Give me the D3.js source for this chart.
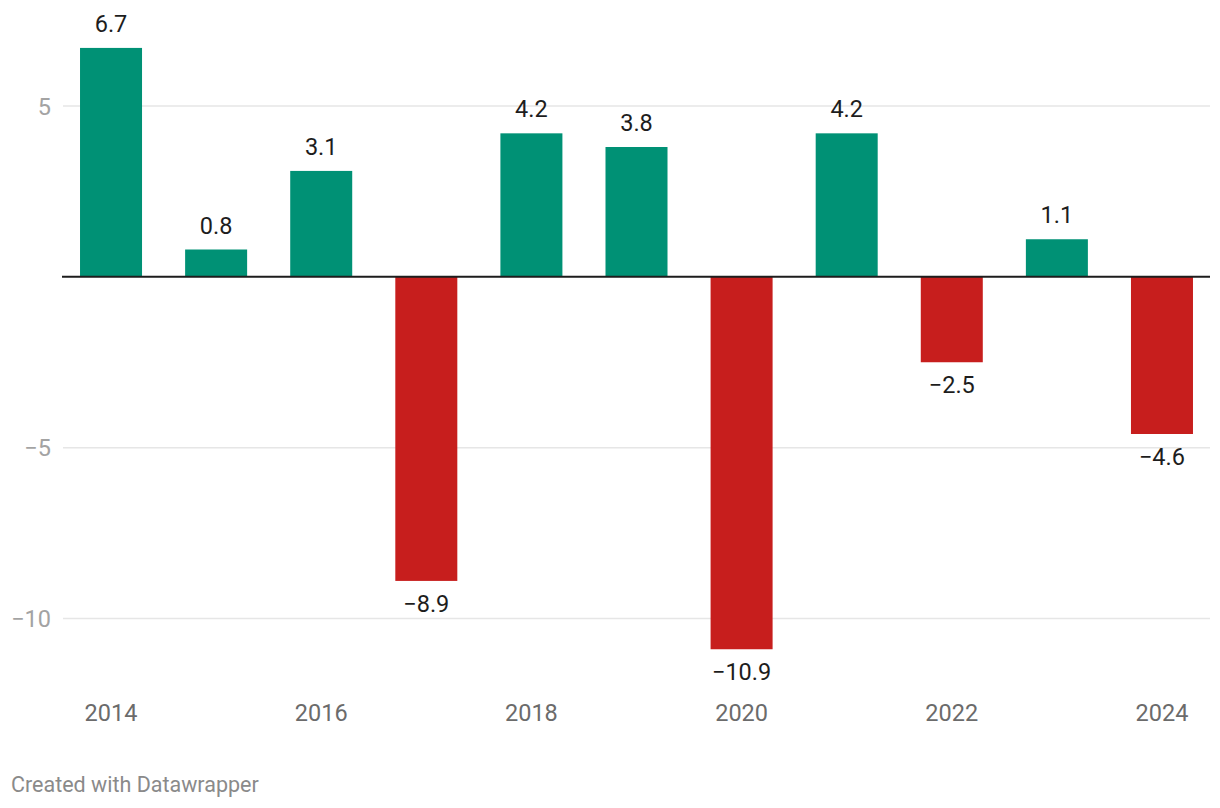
<!DOCTYPE html>
<html>
<head>
<meta charset="utf-8">
<script src="https://cdn.jsdelivr.net/npm/d3@7"></script>
<style>
  html, body { margin: 0; padding: 0; background: #fff; }
  svg { display: block; font-family: Roboto, sans-serif; }
</style>
</head>
<body>
<svg id="chart"></svg>
<script>
// data
const years = ['2014', '2015', '2016', '2017', '2018', '2019', '2020', '2021', '2022', '2023', '2024'];
const values = [6.7, 0.8, 3.1, -8.9, 4.2, 3.8, -10.9, 4.2, -2.5, 1.1, -4.6];
const yTicks = [5, -5, -10];
const xTickLabels = ['2014', '2016', '2018', '2020', '2022', '2024'];

const settings = {
    width: 1220,
    height: 808,
    left: 63,
    right: 1210,
    fontSize: 23.5,
    style: {
        up: '#009175',
        down: '#c71e1d',
        grid: '#e6e6e6',
        zero: '#1d1d1d',
        tickColor: '#a3a3a3',
        yearColor: '#6b6b6b',
        labelColor: '#1d1d1d'
    }
};

const minus = function (v) { return String(v).replace('-', '\u2212'); };

const svg = d3.select('#chart')
    .attr('width', settings.width)
    .attr('height', settings.height);

const x = d3.scaleBand()
    .domain(years)
    .range([settings.left, settings.right])
    .paddingInner(0.41)
    .paddingOuter(0.162);

const y = d3.scaleLinear()
    .domain([-10, 5])
    .range([618.5, 106]);

// grid lines
svg.append('g')
    .selectAll('line')
    .data(yTicks).enter().append('line')
    .attr('x1', settings.left)
    .attr('x2', settings.right)
    .attr('y1', function (d) { return y(d) })
    .attr('y2', function (d) { return y(d) })
    .style('stroke', settings.style.grid)
    .style('stroke-width', 1.5);

svg.append('g')
    .selectAll('text')
    .data(yTicks).enter().append('text')
    .attr('x', 51)
    .attr('y', function (d) { return y(d) + 8.5 })
    .attr('text-anchor', 'end')
    .style('font-size', settings.fontSize + 'px')
    .style('fill', settings.style.tickColor)
    .text(function (d) { return minus(d) });

// bars
svg.append('g')
    .selectAll('rect')
    .data(values).enter().append('rect')
    .attr('x', function (d, i) { return x(years[i]) })
    .attr('width', x.bandwidth())
    .attr('y', function (d) { return y(Math.max(0, d)) })
    .attr('height', function (d) { return Math.abs(y(d) - y(0)) })
    .attr('fill', function (d) { return d < 0 ? settings.style.down : settings.style.up });

// zero line
svg.append('line')
    .attr('x1', settings.left - 1)
    .attr('x2', settings.right)
    .attr('y1', y(0))
    .attr('y2', y(0))
    .style('stroke', settings.style.zero)
    .style('stroke-width', 2);

// value labels
svg.append('g')
    .selectAll('text')
    .data(values).enter().append('text')
    .attr('x', function (d, i) { return x(years[i]) + x.bandwidth() / 2 })
    .attr('y', function (d) { return d < 0 ? y(d) + 31 : y(d) - 16 })
    .attr('text-anchor', 'middle')
    .style('font-size', settings.fontSize + 'px')
    .style('fill', settings.style.labelColor)
    .text(function (d) { return minus(d.toFixed(1)) });

// x axis labels
svg.append('g')
    .selectAll('text')
    .data(xTickLabels).enter().append('text')
    .attr('x', function (d) { return x(d) + x.bandwidth() / 2 })
    .attr('y', 721)
    .attr('text-anchor', 'middle')
    .style('font-size', settings.fontSize + 'px')
    .style('fill', settings.style.yearColor)
    .text(function (d) { return d });

svg.append('text')
    .attr('x', 11)
    .attr('y', 792)
    .style('font-size', '21.5px')
    .style('fill', '#8a8a8a')
    .text('Created with Datawrapper');
</script>
</body>
</html>
